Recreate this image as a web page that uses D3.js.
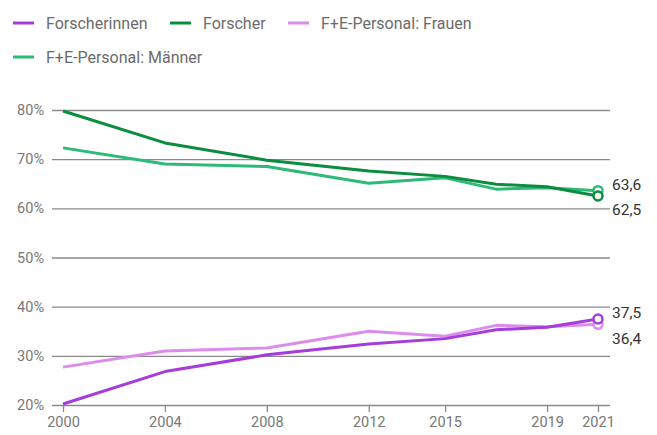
<!DOCTYPE html>
<html>
<head>
<meta charset="utf-8">
<script src="https://cdn.jsdelivr.net/npm/d3@7"></script>
<style>
  body { margin: 0; background: #fff; }
  svg { font-family: Roboto, sans-serif; }
</style>
</head>
<body>
<svg width="657" height="435"></svg>
<script>

// DATA ––––––––––––––––––––––––––––––––––––––––––––––––––––––––––––––––

var years = [2000, 2004, 2008, 2012, 2015, 2017, 2019, 2021];
var forscherinnen = [20.2, 26.8, 30.2, 32.4, 33.5, 35.3, 35.8, 37.5];
var forscher = [79.8, 73.3, 69.8, 67.6, 66.5, 64.9, 64.4, 62.5];
var feFrauen = [27.7, 31.0, 31.6, 35.0, 34.0, 36.2, 35.9, 36.4];
var feMaenner = [72.3, 69.0, 68.5, 65.1, 66.2, 63.9, 64.2, 63.6];
var seriesNames = ["Forscherinnen", "Forscher", "F+E-Personal: Frauen", "F+E-Personal: Männer"];
var xTicks = [2000, 2004, 2008, 2012, 2015, 2019, 2021];
var yTicks = [20, 30, 40, 50, 60, 70, 80];
var endLabels = ["37,5", "62,5", "36,4", "63,6"];

var colors = ["#a43ddb", "#0a8d3e", "#dc8ceb", "#2dba78"];

// DRAW –––––––––––––––––––––––––––––––––––––––––––––––––––––––––––––––

var draw = function() {
  var svg = d3.select("svg");

  var seriesValues = [forscherinnen, forscher, feFrauen, feMaenner];
  var series = seriesValues.map(function(vals, i) {
    return {
      name: seriesNames[i],
      color: colors[i],
      label: endLabels[i],
      values: vals.map(function(v, j) { return {year: years[j], value: v}; })
    };
  });

  var x = d3.scaleLinear().domain([2000, 2021]).range([63, 598]);
  var y = d3.scaleLinear().domain([20, 80]).range([405, 110]);

  // legend
  var legendPos = [[13, 23], [170, 23], [288, 23], [13, 57]];
  var legend = svg.append("g");
  series.forEach(function(s, i) {
    var lg = legend.append("g").attr("transform", "translate(" + legendPos[i][0] + "," + legendPos[i][1] + ")");
    lg.append("line")
      .attr("x1", 0).attr("x2", 21)
      .attr("stroke", s.color)
      .attr("stroke-width", 3);
    lg.append("text")
      .attr("x", 33)
      .attr("dy", "0.35em")
      .attr("fill", "#6b6b6b")
      .style("font-size", "16px")
      .text(s.name);
  });

  // grid + y labels
  var yAxis = svg.append("g")
    .attr("transform", "translate(52,0)")
    .call(d3.axisLeft(y).tickValues(yTicks).tickSize(-558).tickFormat(function(d) { return d + "%"; }));
  yAxis.select(".domain").remove();
  yAxis.selectAll(".tick line").attr("stroke", "#8a8a8a").attr("stroke-width", 1.3);
  yAxis.selectAll(".tick text")
    .attr("x", -8)
    .attr("fill", "#777")
    .style("font-size", "14.5px")
    .style("font-family", "Roboto, sans-serif");

  // x axis
  var xAxis = svg.append("g")
    .attr("transform", "translate(0,405)")
    .call(d3.axisBottom(x).tickValues(xTicks).tickSize(7).tickFormat(d3.format("d")));
  xAxis.select(".domain").remove();
  xAxis.selectAll(".tick line").attr("stroke", "#8a8a8a").attr("stroke-width", 1.3);
  xAxis.selectAll(".tick text")
    .attr("y", 12)
    .attr("fill", "#777")
    .style("font-size", "14.5px")
    .style("font-family", "Roboto, sans-serif");

  // lines
  var line = d3.line()
    .x(function(d) { return x(d.year); })
    .y(function(d) { return y(d.value); });

  var order = [3, 2, 1, 0];
  order.forEach(function(i) {
    var s = series[i];
    svg.append("path")
      .datum(s.values)
      .attr("fill", "none")
      .attr("stroke", s.color)
      .attr("stroke-width", 3)
      .attr("stroke-linejoin", "round")
      .attr("d", line);
  });

  order.forEach(function(i) {
    var s = series[i];
    var last = s.values[s.values.length - 1];
    svg.append("circle")
      .attr("cx", x(last.year))
      .attr("cy", y(last.value))
      .attr("r", 4.5)
      .attr("fill", "#fff")
      .attr("stroke", s.color)
      .attr("stroke-width", 2.5);
  });

  // end labels
  var labelY = [313, 210, 339, 185];
  series.forEach(function(s, i) {
    svg.append("text")
      .attr("x", 612)
      .attr("y", labelY[i])
      .attr("dy", "0.35em")
      .attr("fill", "#333")
      .style("font-size", "15.5px")
      .text(s.label);
  });
};

draw();
</script>
</body>
</html>
